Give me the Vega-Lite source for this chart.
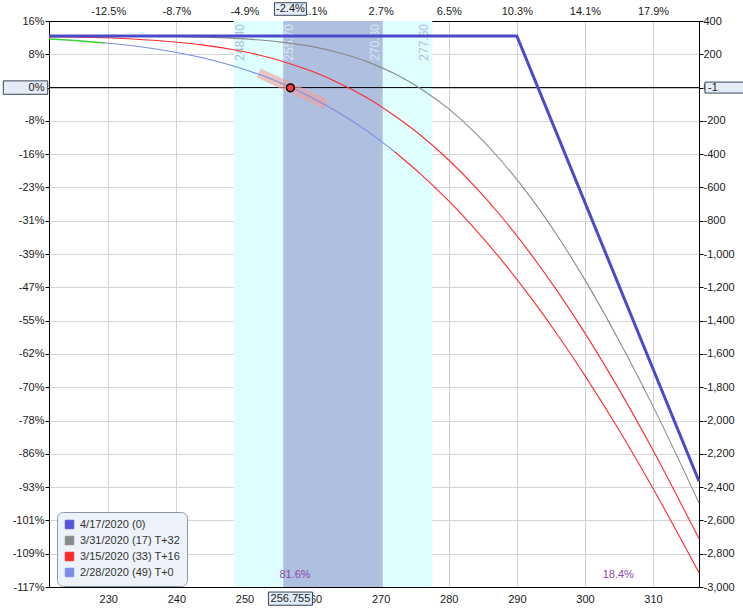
{
  "$schema": "https://vega.github.io/schema/vega-lite/v6.json",
  "width": 650,
  "height": 566,
  "autosize": {"type": "none"},
  "padding": {"left": 49, "top": 21, "right": 44, "bottom": 21},
  "background": "#ffffff",
  "config": {
    "view": {"stroke": null},
    "font": "Liberation Sans",
    "axis": {"labelFont": "Liberation Sans", "labelFontSize": 11, "labelColor": "#1a1a1a", "domainColor": "#000000", "domainWidth": 1, "tickColor": "#000000", "gridColor": "#d4d4d4", "gridWidth": 1, "title": null, "labelFlush": false},
    "text": {"font": "Liberation Sans"}
  },
  "datasets": {
    "curves": [
      {"series": "3/31/2020 (17) T+32", "seg": "main", "s": 221.3, "pnl": 310},
      {"series": "3/31/2020 (17) T+32", "seg": "main", "s": 232, "pnl": 309},
      {"series": "3/31/2020 (17) T+32", "seg": "main", "s": 240, "pnl": 306.5},
      {"series": "3/31/2020 (17) T+32", "seg": "main", "s": 244, "pnl": 303},
      {"series": "3/31/2020 (17) T+32", "seg": "main", "s": 248, "pnl": 297},
      {"series": "3/31/2020 (17) T+32", "seg": "main", "s": 252, "pnl": 287},
      {"series": "3/31/2020 (17) T+32", "seg": "main", "s": 256, "pnl": 270},
      {"series": "3/31/2020 (17) T+32", "seg": "main", "s": 260, "pnl": 246},
      {"series": "3/31/2020 (17) T+32", "seg": "main", "s": 264, "pnl": 208},
      {"series": "3/31/2020 (17) T+32", "seg": "main", "s": 268, "pnl": 156},
      {"series": "3/31/2020 (17) T+32", "seg": "main", "s": 272, "pnl": 84},
      {"series": "3/31/2020 (17) T+32", "seg": "main", "s": 276, "pnl": -10},
      {"series": "3/31/2020 (17) T+32", "seg": "main", "s": 280, "pnl": -128},
      {"series": "3/31/2020 (17) T+32", "seg": "main", "s": 284, "pnl": -276},
      {"series": "3/31/2020 (17) T+32", "seg": "main", "s": 288, "pnl": -453},
      {"series": "3/31/2020 (17) T+32", "seg": "main", "s": 292, "pnl": -658},
      {"series": "3/31/2020 (17) T+32", "seg": "main", "s": 296, "pnl": -893},
      {"series": "3/31/2020 (17) T+32", "seg": "main", "s": 300, "pnl": -1155},
      {"series": "3/31/2020 (17) T+32", "seg": "main", "s": 305, "pnl": -1519},
      {"series": "3/31/2020 (17) T+32", "seg": "main", "s": 310, "pnl": -1915},
      {"series": "3/31/2020 (17) T+32", "seg": "main", "s": 316.75, "pnl": -2495},
      {"series": "3/15/2020 (33) T+16", "seg": "main", "s": 221.3, "pnl": 304},
      {"series": "3/15/2020 (33) T+16", "seg": "main", "s": 226, "pnl": 302},
      {"series": "3/15/2020 (33) T+16", "seg": "main", "s": 232, "pnl": 295},
      {"series": "3/15/2020 (33) T+16", "seg": "main", "s": 238, "pnl": 280},
      {"series": "3/15/2020 (33) T+16", "seg": "main", "s": 244, "pnl": 255},
      {"series": "3/15/2020 (33) T+16", "seg": "main", "s": 248, "pnl": 230},
      {"series": "3/15/2020 (33) T+16", "seg": "main", "s": 252, "pnl": 197},
      {"series": "3/15/2020 (33) T+16", "seg": "main", "s": 256, "pnl": 152.5},
      {"series": "3/15/2020 (33) T+16", "seg": "main", "s": 260, "pnl": 96},
      {"series": "3/15/2020 (33) T+16", "seg": "main", "s": 264, "pnl": 25},
      {"series": "3/15/2020 (33) T+16", "seg": "main", "s": 268, "pnl": -61},
      {"series": "3/15/2020 (33) T+16", "seg": "main", "s": 272, "pnl": -168},
      {"series": "3/15/2020 (33) T+16", "seg": "main", "s": 276, "pnl": -291},
      {"series": "3/15/2020 (33) T+16", "seg": "main", "s": 280, "pnl": -435},
      {"series": "3/15/2020 (33) T+16", "seg": "main", "s": 284, "pnl": -601},
      {"series": "3/15/2020 (33) T+16", "seg": "main", "s": 288, "pnl": -788},
      {"series": "3/15/2020 (33) T+16", "seg": "main", "s": 292, "pnl": -997},
      {"series": "3/15/2020 (33) T+16", "seg": "main", "s": 296, "pnl": -1226},
      {"series": "3/15/2020 (33) T+16", "seg": "main", "s": 300, "pnl": -1475},
      {"series": "3/15/2020 (33) T+16", "seg": "main", "s": 305, "pnl": -1813},
      {"series": "3/15/2020 (33) T+16", "seg": "main", "s": 310, "pnl": -2179},
      {"series": "3/15/2020 (33) T+16", "seg": "main", "s": 316.75, "pnl": -2710},
      {"series": "2/28/2020 (49) T+0", "seg": "green", "s": 221.3, "pnl": 292},
      {"series": "2/28/2020 (49) T+0", "seg": "green", "s": 226, "pnl": 280},
      {"series": "2/28/2020 (49) T+0", "seg": "green", "s": 229.5, "pnl": 268},
      {"series": "2/28/2020 (49) T+0", "seg": "main", "s": 229.5, "pnl": 268},
      {"series": "2/28/2020 (49) T+0", "seg": "main", "s": 232, "pnl": 259},
      {"series": "2/28/2020 (49) T+0", "seg": "main", "s": 238, "pnl": 226},
      {"series": "2/28/2020 (49) T+0", "seg": "main", "s": 244, "pnl": 177.5},
      {"series": "2/28/2020 (49) T+0", "seg": "main", "s": 248, "pnl": 134},
      {"series": "2/28/2020 (49) T+0", "seg": "main", "s": 252, "pnl": 81},
      {"series": "2/28/2020 (49) T+0", "seg": "main", "s": 256, "pnl": 16},
      {"series": "2/28/2020 (49) T+0", "seg": "main", "s": 260, "pnl": -62},
      {"series": "2/28/2020 (49) T+0", "seg": "main", "s": 264, "pnl": -154},
      {"series": "2/28/2020 (49) T+0", "seg": "main", "s": 268, "pnl": -260},
      {"series": "2/28/2020 (49) T+0", "seg": "main", "s": 272, "pnl": -384},
      {"series": "2/28/2020 (49) T+0", "seg": "red", "s": 272, "pnl": -384},
      {"series": "2/28/2020 (49) T+0", "seg": "red", "s": 276, "pnl": -524},
      {"series": "2/28/2020 (49) T+0", "seg": "red", "s": 280, "pnl": -681},
      {"series": "2/28/2020 (49) T+0", "seg": "red", "s": 284, "pnl": -856},
      {"series": "2/28/2020 (49) T+0", "seg": "red", "s": 288, "pnl": -1049},
      {"series": "2/28/2020 (49) T+0", "seg": "red", "s": 292, "pnl": -1259},
      {"series": "2/28/2020 (49) T+0", "seg": "red", "s": 296, "pnl": -1486},
      {"series": "2/28/2020 (49) T+0", "seg": "red", "s": 300, "pnl": -1730},
      {"series": "2/28/2020 (49) T+0", "seg": "red", "s": 305, "pnl": -2057},
      {"series": "2/28/2020 (49) T+0", "seg": "red", "s": 310, "pnl": -2408},
      {"series": "2/28/2020 (49) T+0", "seg": "red", "s": 316.75, "pnl": -2914}
    ],
    "expiry": [
      {"series": "4/17/2020 (0)", "s": 221.3, "pnl": 310},
      {"series": "4/17/2020 (0)", "s": 290, "pnl": 310},
      {"series": "4/17/2020 (0)", "s": 316.75, "pnl": -2365}
    ],
    "bands": [
      {"kind": "outer", "lo": 248.4, "hi": 277.6},
      {"kind": "inner", "lo": 255.7, "hi": 270.3}
    ],
    "bandLabels": [
      {"s": 248.4, "label": "248.40", "side": "left", "on": "cyan"},
      {"s": 255.7, "label": "255.70", "side": "left", "on": "dark"},
      {"s": 270.3, "label": "270.30", "side": "right", "on": "dark"},
      {"s": 277.6, "label": "277.60", "side": "right", "on": "cyan"}
    ],
    "tangent": [
      {"s": 252.1, "pnl": 88},
      {"s": 262, "pnl": -100}
    ],
    "marker": [
      {"s": 256.755, "pnl": -1}
    ],
    "probs": [
      {"s": 257.42, "pnl": -2928, "label": "81.6%"},
      {"s": 304.9, "pnl": -2928, "label": "18.4%"}
    ],
    "boxes": [
      {"box": "bottom", "s": 256.755, "pnl": -3070, "label": "256.755"},
      {"box": "top", "s": 256.755, "pnl": 472, "label": "-2.4%"},
      {"box": "left", "s": 217.85, "pnl": 0, "label": "0%"},
      {"box": "right", "s": 320.57, "pnl": 0, "label": "-1"}
    ]
  },
  "layer": [
    {
      "data": {"name": "bands"},
      "transform": [{"filter": "datum.kind == 'outer'"}],
      "mark": {"type": "rect", "color": "#DFFFFF", "opacity": 1},
      "encoding": {
        "x": {"field": "lo", "type": "quantitative", "scale": {"domain": [221.3, 316.75], "nice": false, "zero": false}, "axis": null},
        "x2": {"field": "hi"}
      }
    },
    {
      "data": {"name": "bands"},
      "transform": [{"filter": "datum.kind == 'inner'"}],
      "mark": {"type": "rect", "color": "#AFBFDF", "opacity": 1},
      "encoding": {
        "x": {"field": "lo", "type": "quantitative", "scale": {"domain": [221.3, 316.75], "nice": false, "zero": false}, "axis": null},
        "x2": {"field": "hi"}
      }
    },
    {
      "data": {"name": "bandLabels"},
      "transform": [{"filter": "datum.side == 'left'"}],
      "mark": {"type": "text", "angle": 270, "align": "right", "baseline": "top", "dx": -3, "dy": 1, "fontSize": 12},
      "encoding": {
        "x": {"field": "s", "type": "quantitative", "scale": {"domain": [221.3, 316.75], "nice": false, "zero": false}, "axis": null},
        "y": {"datum": 400, "type": "quantitative", "scale": {"domain": [-3000, 400], "nice": false, "zero": false}, "axis": null},
        "text": {"field": "label"},
        "color": {"condition": {"test": "datum.on == 'cyan'", "value": "#A9BEDD"}, "value": "#DDE6F5"}
      }
    },
    {
      "data": {"name": "bandLabels"},
      "transform": [{"filter": "datum.side == 'right'"}],
      "mark": {"type": "text", "angle": 270, "align": "right", "baseline": "bottom", "dx": -3, "dy": -1, "fontSize": 12},
      "encoding": {
        "x": {"field": "s", "type": "quantitative", "scale": {"domain": [221.3, 316.75], "nice": false, "zero": false}, "axis": null},
        "y": {"datum": 400, "type": "quantitative", "scale": {"domain": [-3000, 400], "nice": false, "zero": false}, "axis": null},
        "text": {"field": "label"},
        "color": {"condition": {"test": "datum.on == 'cyan'", "value": "#A9BEDD"}, "value": "#DDE6F5"}
      }
    },
    {
      "data": {"name": "marker"},
      "mark": {"type": "rule", "color": "#000000", "strokeWidth": 1},
      "encoding": {
        "y": {"datum": 0, "type": "quantitative", "scale": {"domain": [-3000, 400], "nice": false, "zero": false}, "axis": null}
      }
    },
    {
      "data": {"name": "tangent"},
      "mark": {"type": "line", "color": "#F2A09A", "strokeWidth": 10, "opacity": 0.6, "strokeCap": "butt"},
      "encoding": {
        "x": {"field": "s", "type": "quantitative", "scale": {"domain": [221.3, 316.75], "nice": false, "zero": false}, "axis": null},
        "y": {"field": "pnl", "type": "quantitative", "scale": {"domain": [-3000, 400], "nice": false, "zero": false}, "axis": null}
      }
    },
    {
      "data": {"name": "curves"},
      "transform": [{"filter": "datum.seg == 'green'"}],
      "mark": {"type": "line", "interpolate": "monotone", "color": "#3CD23C", "strokeWidth": 1.4},
      "encoding": {
        "x": {"field": "s", "type": "quantitative", "scale": {"domain": [221.3, 316.75], "nice": false, "zero": false}, "axis": null},
        "y": {"field": "pnl", "type": "quantitative", "scale": {"domain": [-3000, 400], "nice": false, "zero": false}, "axis": null}
      }
    },
    {
      "data": {"name": "curves"},
      "transform": [{"filter": "datum.seg == 'red'"}],
      "mark": {"type": "line", "interpolate": "monotone", "color": "#FF2A2A", "strokeWidth": 1.1},
      "encoding": {
        "x": {"field": "s", "type": "quantitative", "scale": {"domain": [221.3, 316.75], "nice": false, "zero": false}, "axis": null},
        "y": {"field": "pnl", "type": "quantitative", "scale": {"domain": [-3000, 400], "nice": false, "zero": false}, "axis": null}
      }
    },
    {
      "data": {"name": "curves"},
      "transform": [{"filter": "datum.seg == 'main'"}],
      "mark": {"type": "line", "interpolate": "monotone", "strokeWidth": 1.1},
      "encoding": {
        "x": {"field": "s", "type": "quantitative", "scale": {"domain": [221.3, 316.75], "nice": false, "zero": false},
          "axis": {"orient": "top", "values": [230, 240, 250, 260, 270, 280, 290, 300, 310], "grid": false, "ticks": false, "labelPadding": 5, "labelExpr": "replace(format((datum.value - 262.95) / 262.95 * 100, '.1f'), '\u2212', '-') + '%'"}},
        "y": {"field": "pnl", "type": "quantitative", "scale": {"domain": [-3000, 400], "nice": false, "zero": false},
          "axis": {"orient": "left", "values": [-3000, -2800, -2600, -2400, -2200, -2000, -1800, -1600, -1400, -1200, -1000, -800, -600, -400, -200, 0, 200, 400], "grid": false, "tickSize": 4, "labelPadding": 1, "labelExpr": "round(datum.value / 25.6755) + '%'"}},
        "color": {"field": "series", "type": "nominal",
          "scale": {"domain": ["4/17/2020 (0)", "3/31/2020 (17) T+32", "3/15/2020 (33) T+16", "2/28/2020 (49) T+0"], "range": ["#5656D4", "#8A8A8A", "#FF2A2A", "#7B8DE6"]},
          "legend": {"orient": "none", "legendX": 8, "legendY": 491, "title": null, "fillColor": "#EEF3F9", "strokeColor": "#8C98A6", "cornerRadius": 6, "padding": 7, "symbolType": "square", "symbolSize": 72, "symbolStrokeWidth": 1, "labelFontSize": 11, "labelFont": "Liberation Sans", "labelColor": "#333333", "labelOffset": 5, "rowPadding": 3,
            "encode": {"symbols": {"update": {"fill": {"scale": "color", "field": "value"}, "fillOpacity": {"value": 1}, "opacity": {"value": 1}, "stroke": {"value": "#404040"}, "strokeWidth": {"value": 1}}}}}
        }
      }
    },
    {
      "data": {"name": "expiry"},
      "mark": {"type": "line", "interpolate": "linear", "color": "#4A4ACB", "strokeWidth": 3},
      "encoding": {
        "x": {"field": "s", "type": "quantitative", "scale": {"domain": [221.3, 316.75], "nice": false, "zero": false},
          "axis": {"orient": "bottom", "values": [230, 240, 250, 260, 270, 280, 290, 300, 310], "format": "d", "grid": true, "ticks": false, "labelPadding": 6}},
        "y": {"field": "pnl", "type": "quantitative", "scale": {"domain": [-3000, 400], "nice": false, "zero": false},
          "axis": {"orient": "right", "values": [-3000, -2800, -2600, -2400, -2200, -2000, -1800, -1600, -1400, -1200, -1000, -800, -600, -400, -200, 0, 200, 400], "grid": true, "tickSize": 4, "labelPadding": 0, "labelExpr": "replace(format(datum.value, ','), '\u2212', '-')"}}
      }
    },
    {
      "data": {"name": "marker"},
      "mark": {"type": "point", "shape": "circle", "size": 60, "filled": true, "fill": "#FF3B3B", "stroke": "#000000", "strokeWidth": 1.5, "opacity": 1},
      "encoding": {
        "x": {"field": "s", "type": "quantitative", "scale": {"domain": [221.3, 316.75], "nice": false, "zero": false}, "axis": null},
        "y": {"field": "pnl", "type": "quantitative", "scale": {"domain": [-3000, 400], "nice": false, "zero": false}, "axis": null}
      }
    },
    {
      "data": {"name": "probs"},
      "mark": {"type": "text", "fontSize": 11, "color": "#8A48AE", "align": "center", "baseline": "middle"},
      "encoding": {
        "x": {"field": "s", "type": "quantitative", "scale": {"domain": [221.3, 316.75], "nice": false, "zero": false}, "axis": null},
        "y": {"field": "pnl", "type": "quantitative", "scale": {"domain": [-3000, 400], "nice": false, "zero": false}, "axis": null},
        "text": {"field": "label"}
      }
    },
    {
      "data": {"name": "boxes"},
      "mark": {"type": "point", "filled": true, "fill": "#E4EDF7", "stroke": "#36465A", "strokeWidth": 1, "opacity": 1, "size": 1936, "clip": false},
      "encoding": {
        "x": {"field": "s", "type": "quantitative", "scale": {"domain": [221.3, 316.75], "nice": false, "zero": false}, "axis": null},
        "y": {"field": "pnl", "type": "quantitative", "scale": {"domain": [-3000, 400], "nice": false, "zero": false}, "axis": null},
        "shape": {"field": "box", "type": "nominal", "legend": null,
          "scale": {"domain": ["bottom", "top", "left", "right"], "range": ["M-1,-0.3H1V0.3H-1Z", "M-0.727,-0.286H0.727V0.286H-0.727Z", "M-1.01,-0.305H1.01V0.305H-1.01Z", "M-0.91,-0.25H0.91V0.25H-0.91Z"]}}
      }
    },
    {
      "data": {"name": "boxes"},
      "transform": [{"filter": "datum.box == 'bottom' || datum.box == 'top'"}],
      "mark": {"type": "text", "fontSize": 11, "color": "#1a1a1a", "align": "center", "baseline": "middle", "clip": false},
      "encoding": {
        "x": {"field": "s", "type": "quantitative", "scale": {"domain": [221.3, 316.75], "nice": false, "zero": false}, "axis": null},
        "y": {"field": "pnl", "type": "quantitative", "scale": {"domain": [-3000, 400], "nice": false, "zero": false}, "axis": null},
        "text": {"field": "label"}
      }
    },
    {
      "data": {"name": "boxes"},
      "transform": [{"filter": "datum.box == 'left'"}],
      "mark": {"type": "text", "fontSize": 11, "color": "#1a1a1a", "align": "right", "baseline": "middle", "dx": 19, "clip": false},
      "encoding": {
        "x": {"field": "s", "type": "quantitative", "scale": {"domain": [221.3, 316.75], "nice": false, "zero": false}, "axis": null},
        "y": {"field": "pnl", "type": "quantitative", "scale": {"domain": [-3000, 400], "nice": false, "zero": false}, "axis": null},
        "text": {"field": "label"}
      }
    },
    {
      "data": {"name": "boxes"},
      "transform": [{"filter": "datum.box == 'right'"}],
      "mark": {"type": "text", "fontSize": 11, "color": "#1a1a1a", "align": "left", "baseline": "middle", "dx": -17, "clip": false},
      "encoding": {
        "x": {"field": "s", "type": "quantitative", "scale": {"domain": [221.3, 316.75], "nice": false, "zero": false}, "axis": null},
        "y": {"field": "pnl", "type": "quantitative", "scale": {"domain": [-3000, 400], "nice": false, "zero": false}, "axis": null},
        "text": {"field": "label"}
      }
    }
  ],
  "resolve": {"axis": {"x": "independent", "y": "independent"}}
}
